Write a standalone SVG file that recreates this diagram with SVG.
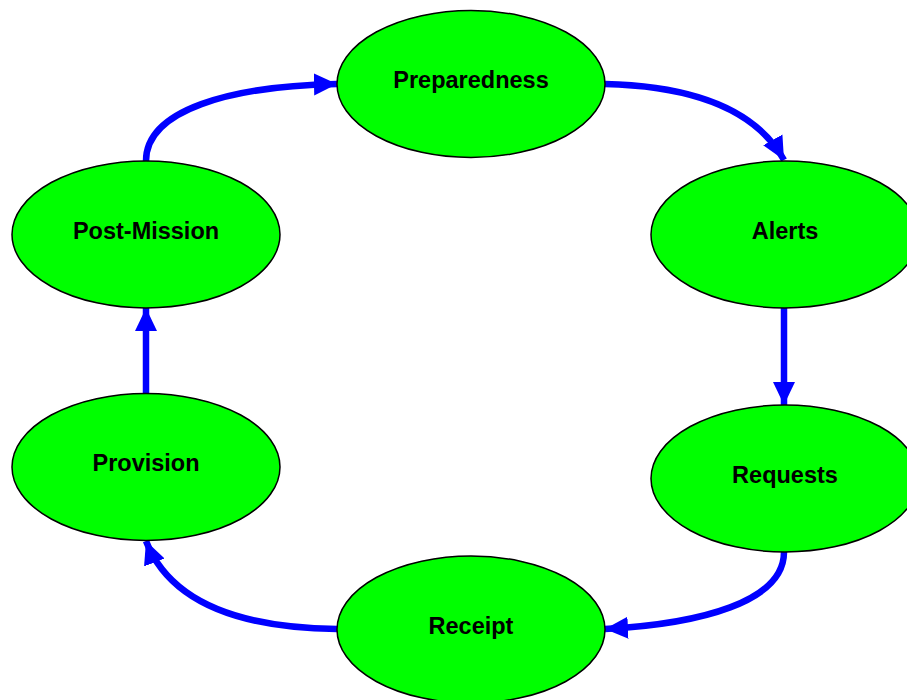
<svg xmlns="http://www.w3.org/2000/svg" width="907" height="700" viewBox="0 0 907 700">
<style>
.node ellipse{fill:#00ff00;stroke:#000;stroke-width:1.5}
.node text{font-family:"Liberation Sans",Arial,sans-serif;font-weight:bold;font-size:23.5px;text-anchor:middle;fill:#000}
.edge{fill:none;stroke:#0000ff;stroke-width:6.5;marker-end:url(#ah)}
</style>
<defs>
<marker id="ah" markerUnits="userSpaceOnUse" markerWidth="24" markerHeight="24" viewBox="0 0 24 24" refX="23" refY="12" orient="auto">
<path d="M0,1 L23,12 L0,23 Z" fill="#0000ff"/>
</marker>
</defs>
<rect width="907" height="700" fill="#fff"/>
<g id="connectors">
<path class="edge" d="M146,161 C146,110 230,86 337,84"/>
<path class="edge" d="M605,84 C690,86 755,108 784,160"/>
<path class="edge" d="M784,308 L784,405"/>
<path class="edge" d="M784,552 C784,602 700,624 605,629"/>
<path class="edge" d="M337,629 C250,628 172,608 146,541"/>
<path class="edge" d="M146,393 L146,308"/>
</g>
<g id="preparedness" class="node"><ellipse cx="471" cy="84" rx="134" ry="73.5"/><text x="471" y="88">Preparedness</text></g>
<g id="alerts" class="node"><ellipse cx="785" cy="234.5" rx="134" ry="73.5"/><text x="785" y="239">Alerts</text></g>
<g id="requests" class="node"><ellipse cx="785" cy="478.5" rx="134" ry="73.5"/><text x="785" y="483">Requests</text></g>
<g id="receipt" class="node"><ellipse cx="471" cy="629.5" rx="134" ry="73.5"/><text x="471" y="634">Receipt</text></g>
<g id="provision" class="node"><ellipse cx="146" cy="467" rx="134" ry="73.5"/><text x="146" y="471">Provision</text></g>
<g id="post-mission" class="node"><ellipse cx="146" cy="234.5" rx="134" ry="73.5"/><text x="146" y="239">Post-Mission</text></g>
</svg>
